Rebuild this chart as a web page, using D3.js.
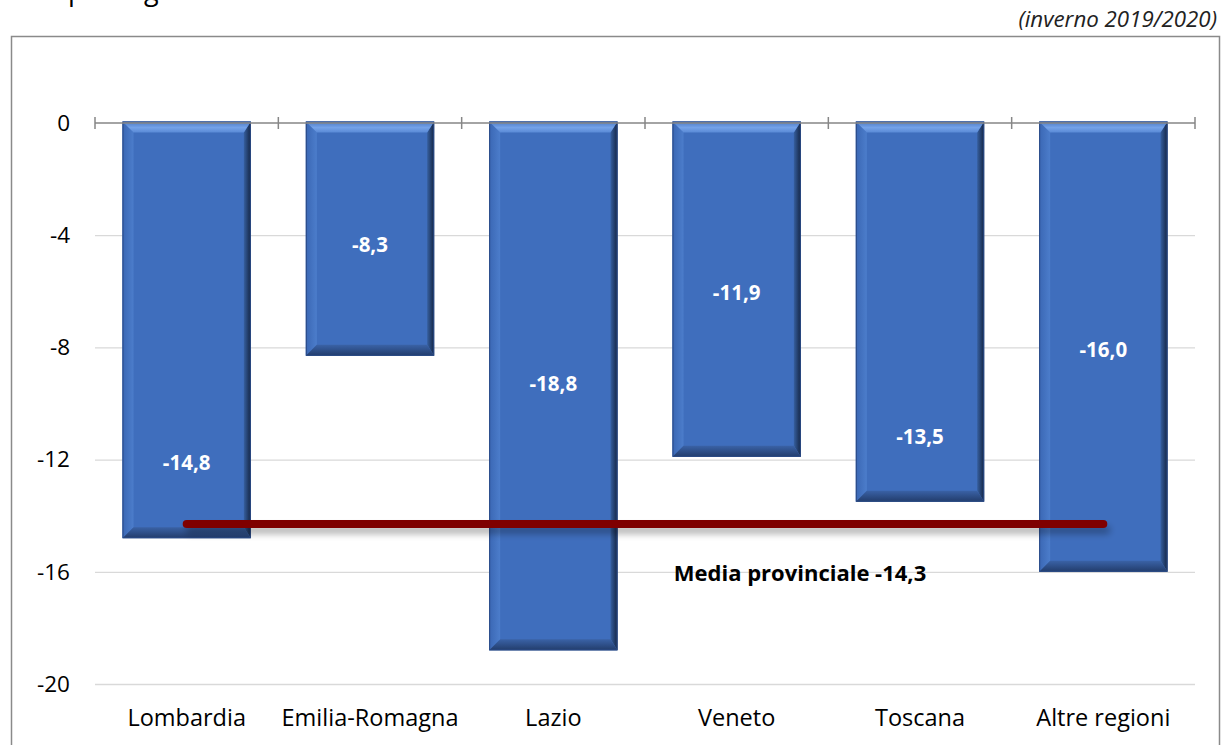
<!DOCTYPE html>
<html>
<head>
<meta charset="utf-8">
<script src="https://cdn.jsdelivr.net/npm/d3@7"></script>
<style>
  body { margin: 0; background: #fff; }
  svg { display: block; font-family: "Open Sans", "Liberation Sans", sans-serif; }
</style>
</head>
<body>
<script>
// data
var regioni = ["Lombardia", "Emilia-Romagna", "Lazio", "Veneto", "Toscana", "Altre regioni"];
var variazioni = [-14.8, -8.3, -18.8, -11.9, -13.5, -16.0];
var etichette = ["-14,8", "-8,3", "-18,8", "-11,9", "-13,5", "-16,0"];
// where each value label sits, in axis units
var posEtichette = [-12.1, -4.35, -9.3, -6.05, -11.2, -8.1];
var yTicks = [0, -4, -8, -12, -16, -20];
var media = -14.3;
var mediaLabel = "Media provinciale -14,3";

var W = 1225, H = 745;
var margin = {top: 123, left: 95, right: 30, bottom: 61};
var width = W - margin.left - margin.right,
    height = H - margin.top - margin.bottom;

var svg = d3.select("body").append("svg")
    .attr("width", W)
    .attr("height", H);

// title (cut by the top edge, as in the source) + period
svg.append("text")
    .attr("x", 68).attr("y", 0)
    .style("font-size", "27px")
    .attr("fill", "#000")
    .text("per regione");

svg.append("text")
    .attr("x", 1217).attr("y", 27)
    .attr("text-anchor", "end")
    .style("font-size", "22.3px")
    .style("font-style", "italic")
    .attr("fill", "#222")
    .text("(inverno 2019/2020)");

// frame
svg.append("rect")
    .attr("x", 11.5).attr("y", 36.5)
    .attr("width", 1208).attr("height", 730)
    .attr("fill", "none")
    .attr("stroke", "#8a8a8a")
    .attr("stroke-width", 1.5);

var defs = svg.append("defs");
var sh = defs.append("filter").attr("id", "shadow")
    .attr("filterUnits", "userSpaceOnUse")
    .attr("x", 0).attr("y", 0).attr("width", W).attr("height", H);
sh.append("feGaussianBlur").attr("in", "SourceAlpha").attr("stdDeviation", 3.5);
sh.append("feOffset").attr("dx", 3).attr("dy", 6).attr("result", "b");
sh.append("feComponentTransfer").append("feFuncA").attr("type", "linear").attr("slope", 0.3);
var m = sh.append("feMerge");
m.append("feMergeNode");
m.append("feMergeNode").attr("in", "SourceGraphic");

var gTop = defs.append("linearGradient").attr("id", "gTop").attr("x1", 0).attr("y1", 0).attr("x2", 0).attr("y2", 1);
gTop.append("stop").attr("offset", "0%").attr("stop-color", "#4a79c6");
gTop.append("stop").attr("offset", "55%").attr("stop-color", "#74a2e8");
gTop.append("stop").attr("offset", "100%").attr("stop-color", "#5a8ad6");
var gRight = defs.append("linearGradient").attr("id", "gRight").attr("x1", 0).attr("y1", 0).attr("x2", 1).attr("y2", 0);
gRight.append("stop").attr("offset", "0%").attr("stop-color", "#365f9f");
gRight.append("stop").attr("offset", "100%").attr("stop-color", "#142543");
var gBottom = defs.append("linearGradient").attr("id", "gBottom").attr("x1", 0).attr("y1", 0).attr("x2", 0).attr("y2", 1);
gBottom.append("stop").attr("offset", "0%").attr("stop-color", "#3a62a6");
gBottom.append("stop").attr("offset", "100%").attr("stop-color", "#223c6b");
var gLeft = defs.append("linearGradient").attr("id", "gLeft").attr("x1", 0).attr("y1", 0).attr("x2", 1).attr("y2", 0);
gLeft.append("stop").attr("offset", "0%").attr("stop-color", "#3a67b4");
gLeft.append("stop").attr("offset", "100%").attr("stop-color", "#4c7dcb");

var g = svg.append("g")
    .attr("transform", "translate(" + margin.left + "," + margin.top + ")");

var x = d3.scaleBand().domain(regioni).range([0, width]).paddingInner(0.3).paddingOuter(0.15);
var y = d3.scaleLinear().domain([-20, 0]).range([height, 0]);

// gridlines
g.selectAll(".grid")
    .data(yTicks.filter(function(d) { return d !== 0; }))
    .enter().append("line")
    .attr("x1", 0).attr("x2", width)
    .attr("y1", function(d) { return y(d) + 0.5; })
    .attr("y2", function(d) { return y(d) + 0.5; })
    .attr("stroke", "#d9d9d9")
    .attr("stroke-width", 1.3);

// y labels
g.selectAll(".ylab")
    .data(yTicks)
    .enter().append("text")
    .attr("x", -25)
    .attr("y", function(d) { return y(d); })
    .attr("dy", "0.35em")
    .attr("text-anchor", "end")
    .style("font-size", "22.5px")
    .attr("fill", "#000")
    .text(function(d) { return d; });

// bars with bevel
var bev = 11, bevR = 7;
var bars = g.selectAll(".bar")
    .data(variazioni)
    .enter().append("g")
    .attr("class", "bar");

bars.each(function(d, i) {
  var b = d3.select(this);
  var x0 = x(regioni[i]), x1 = x0 + x.bandwidth();
  var y0 = y(0) - 1.5, y1 = y(d);
  b.append("rect")
      .attr("x", x0).attr("y", y0)
      .attr("width", x1 - x0).attr("height", y1 - y0)
      .attr("fill", "#3f6ebd");
  // left
  b.append("path")
      .attr("d", "M" + x0 + "," + y0 + "L" + (x0 + bev) + "," + (y0 + bev) + "L" + (x0 + bev) + "," + (y1 - bev) + "L" + x0 + "," + y1 + "Z")
      .attr("fill", "url(#gLeft)");
  // right
  b.append("path")
      .attr("d", "M" + x1 + "," + y0 + "L" + (x1 - bevR) + "," + (y0 + bev) + "L" + (x1 - bevR) + "," + (y1 - bev) + "L" + x1 + "," + y1 + "Z")
      .attr("fill", "url(#gRight)");
  // bottom
  b.append("path")
      .attr("d", "M" + x0 + "," + y1 + "L" + (x0 + bev) + "," + (y1 - bev) + "L" + (x1 - bevR) + "," + (y1 - bev) + "L" + x1 + "," + y1 + "Z")
      .attr("fill", "url(#gBottom)");
  // top
  b.append("path")
      .attr("d", "M" + x0 + "," + y0 + "L" + x1 + "," + y0 + "L" + (x1 - bevR) + "," + (y0 + bev) + "L" + (x0 + bev) + "," + (y0 + bev) + "Z")
      .attr("fill", "url(#gTop)");
  b.append("rect")
      .attr("x", x0 + 0.5).attr("y", y0 + 0.5)
      .attr("width", x1 - x0 - 1).attr("height", y1 - y0 - 1)
      .attr("fill", "none")
      .attr("stroke", "#2a4a85")
      .attr("stroke-width", 1);
});

// zero axis with category ticks
g.append("line")
    .attr("x1", 0).attr("x2", width)
    .attr("y1", y(0)).attr("y2", y(0))
    .attr("stroke", "#868686").attr("stroke-width", 1.5);

var step = width / regioni.length;
g.selectAll(".tick")
    .data(d3.range(regioni.length + 1))
    .enter().append("line")
    .attr("x1", function(d) { return d * step; })
    .attr("x2", function(d) { return d * step; })
    .attr("y1", y(0) - 6).attr("y2", y(0) + 6)
    .attr("stroke", "#868686").attr("stroke-width", 1.5);

// value labels
g.selectAll(".vlab")
    .data(etichette)
    .enter().append("text")
    .attr("x", function(d, i) { return x(regioni[i]) + x.bandwidth() / 2; })
    .attr("y", function(d, i) { return y(posEtichette[i]); })
    .attr("dy", "0.35em")
    .attr("text-anchor", "middle")
    .style("font-size", "20.5px")
    .style("font-weight", "bold")
    .attr("fill", "#fff")
    .text(function(d) { return d; });

// average line
g.append("line")
    .attr("x1", x(regioni[0]) + x.bandwidth() / 2)
    .attr("x2", x(regioni[regioni.length - 1]) + x.bandwidth() / 2)
    .attr("y1", y(media)).attr("y2", y(media))
    .attr("stroke", "#7f0000")
    .attr("stroke-width", 8)
    .attr("stroke-linecap", "round")
    .attr("filter", "url(#shadow)");

g.append("text")
    .attr("x", 705)
    .attr("y", y(media) + 49)
    .attr("dy", "0.35em")
    .attr("text-anchor", "middle")
    .style("font-size", "22px")
    .style("font-weight", "bold")
    .attr("fill", "#000")
    .text(mediaLabel);

// category labels
g.selectAll(".xlab")
    .data(regioni)
    .enter().append("text")
    .attr("x", function(d) { return x(d) + x.bandwidth() / 2; })
    .attr("y", height + 34)
    .attr("dy", "0.35em")
    .attr("text-anchor", "middle")
    .style("font-size", "23.5px")
    .attr("fill", "#000")
    .text(function(d) { return d; });
</script>
</body>
</html>
